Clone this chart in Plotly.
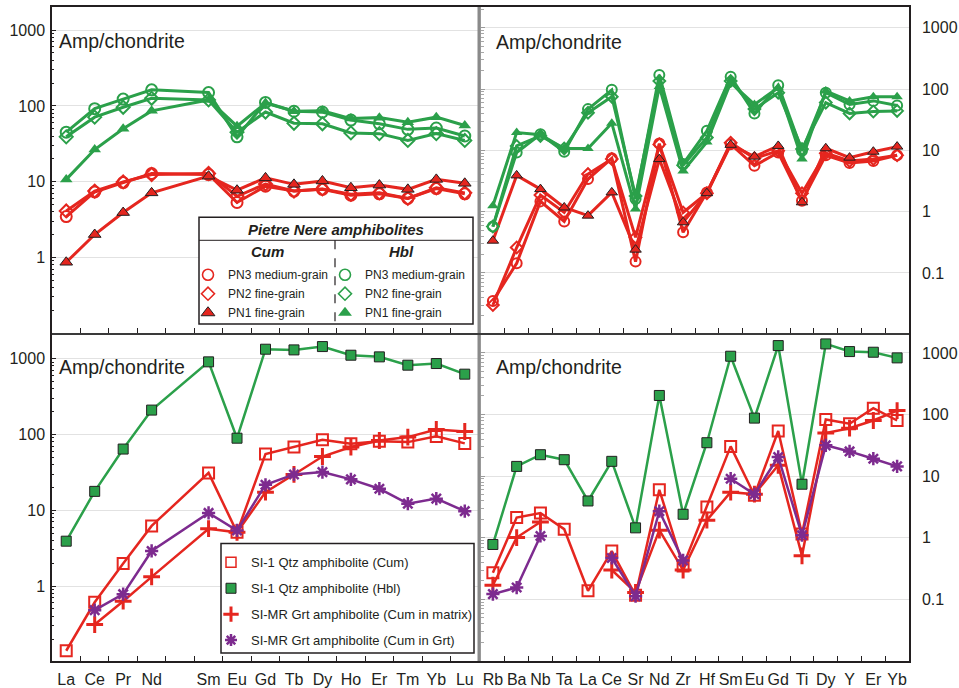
import plotly.graph_objects as go

# ---------------------------------------------------------------- data
ree = ["La", "Ce", "Pr", "Nd", "Sm", "Eu", "Gd", "Tb", "Dy", "Ho", "Er", "Tm", "Yb", "Lu"]
ree_axis = ["La", "Ce", "Pr", "Nd", " ", "Sm", "Eu", "Gd", "Tb", "Dy", "Ho", "Er", "Tm", "Yb", "Lu"]
spider = ["Rb", "Ba", "Nb", "Ta", "La", "Ce", "Sr", "Nd", "Zr", "Hf",
          "Sm", "Eu", "Gd", "Ti", "Dy", "Y", "Er", "Yb"]

# Pietre Nere amphibolites, REE (chondrite normalised)
pn_hbl_pn3_ree = [45, 92, 123, 163, 150, 39, 111, 85, 83, 65, 58, 49, 51, 40]
pn_hbl_pn2_ree = [39, 71, 96, 126, 120, 45, 83, 59, 58, 44, 43, 35, 43, 35]
pn_hbl_pn1_ree = [10.7, 26.5, 50, 86, 120, 54, 109, 85, 86, 68, 70, 61, 71, 55]
pn_cum_pn3_ree = [3.45, 7.3, 9.7, 12.8, 12.4, 5.3, 8.7, 7.5, 7.9, 6.6, 6.9, 6.0, 8.1, 6.9]
pn_cum_pn2_ree = [4.1, 7.5, 9.9, 12.4, 12.8, 6.4, 9.3, 7.5, 8.0, 6.8, 7.1, 6.0, 8.3, 7.1]
pn_cum_pn1_ree = [0.86, 2.0, 3.9, 7.1, 11.8, 7.7, 11.2, 9.2, 10.2, 8.3, 9.0, 7.9, 10.7, 9.5]

# Pietre Nere amphibolites, trace elements
pn_hbl_pn3_te = [0.57, 9.2, 18.3, 9.5, 47, 97, 1.6, 170, 6.0, 20.8, 159, 40, 115, 9.8, 87, 56, 64, 54]
pn_hbl_pn2_te = [0.57, 11.8, 17.2, 10.7, 41, 75, 1.8, 135, 5.7, 16.2, 135, 47, 87, 10.5, 60, 40, 43, 44]
pn_hbl_pn1_te = [1.25, 19.5, 18, 10.7, 10.7, 27.7, 1.1, 110, 4.6, 13.7, 127, 56, 105, 7.2, 93, 64, 75, 75]
pn_cum_pn3_te = [0.035, 0.144, 1.47, 0.69, 3.4, 7.4, 0.153, 12.9, 0.46, 2.06, 12.6, 5.6, 9.2, 1.5, 8.3, 6.2, 6.7, 8.3]
pn_cum_pn2_te = [0.030, 0.26, 1.86, 0.97, 4.1, 7.2, 0.38, 12.5, 0.97, 2.0, 13.3, 7.4, 9.8, 2.0, 9.0, 6.7, 7.2, 8.3]
pn_cum_pn1_te = [0.336, 3.9, 2.33, 1.17, 0.86, 2.06, 0.24, 7.2, 0.67, 2.0, 12.3, 7.9, 11.8, 1.42, 10.8, 7.6, 9.5, 11.5]

# SI-1 / SI-MR amphibolites, REE
si1_hbl_ree = [3.9, 17.7, 64, 209, 904, 89, 1327, 1300, 1438, 1106, 1052, 817, 859, 622]
si1_cum_ree = [0.14, 0.61, 1.98, 6.2, 31, 5.1, 55, 68, 85, 75, 81, 79, 94, 76]
simr_mat_ree = [None, 0.31, 0.63, 1.32, 5.7, 5.1, 17.3, 29.6, 51, 68, 83, 92, 116, 109]
simr_grt_ree = [None, 0.48, 0.78, 2.9, 9.2, 5.4, 21.6, 29.6, 31.8, 25.5, 19.2, 12.2, 14.2, 9.7]

# SI-1 / SI-MR amphibolites, trace elements
si1_hbl_te = [0.78, 14.4, 22.3, 18.5, 3.96, 17.4, 1.45, 204, 2.41, 34.9, 883, 87.5, 1314, 7.4, 1399, 1051, 1025, 830]
si1_cum_te = [0.27, 2.13, 2.53, 1.38, 0.138, 0.61, 0.117, 6.0, 0.35, 3.17, 30.4, 4.9, 54, 1.15, 83, 71, 127, 80]
simr_mat_te = [0.17, 1.01, 1.81, None, None, 0.30, 0.13, 1.33, 0.30, 1.93, 5.5, 5.1, 15, 0.51, 50, 60, 80, 116]
simr_grt_te = [0.122, 0.156, 1.07, None, None, 0.47, 0.113, 2.7, 0.43, None, 9.1, 5.1, 20.5, 1.1, 31.6, 25.2, 19.2, 14.4]

y_ticks_left = [1, 10, 100, 1000]
y_ticks_right = [0.1, 1, 10, 100, 1000]

# ---------------------------------------------------------------- style
W, H = 959, 688
RED = "#e5261f"
GREEN = "#2ba04a"
PURPLE = "#7d2b8f"
INK = "#231f20"
GRID = "#e2e2e2"
FONT = "Liberation Sans, Arial, sans-serif"


def px(v):
    return v / W


def py(v):
    return 1 - v / H


fig = go.Figure()


def series(x, y, xa, ya, color, symbol, size, lw, fill=None, edge=None, edge_w=2.0):
    marker = dict(symbol=symbol, size=size, color=fill if fill else color,
                  line=dict(color=edge if edge else color, width=edge_w))
    fig.add_trace(go.Scatter(x=x, y=y, xaxis=xa, yaxis=ya, mode="lines+markers",
                             line=dict(color=color, width=lw), marker=marker,
                             showlegend=False, hoverinfo="skip", connectgaps=False))


def key(name, legend, color, symbol, size, fill=None, edge=None, edge_w=2.0, group=None):
    fig.add_trace(go.Scatter(x=[None], y=[None], xaxis="x", yaxis="y", mode="markers", name=name,
                             legend=legend, legendgroup=group, showlegend=True,
                             marker=dict(symbol=symbol, size=size, color=fill if fill else color,
                                         line=dict(color=edge if edge else color, width=edge_w))))


# category registration (keeps the empty Pm slot on the REE axes)
for xa, ya, cats in (("x", "y", ree_axis), ("x3", "y3", ree_axis),
                     ("x2", "y2", spider), ("x4", "y4", spider),
                     ("x2", "y5", spider), ("x4", "y6", spider)):
    fig.add_trace(go.Scatter(x=cats, y=[None] * len(cats), xaxis=xa, yaxis=ya, mode="markers",
                             showlegend=False, hoverinfo="skip"))

# ---- top row: Pietre Nere
for xa, ya, cats, d in (("x", "y", ree, (pn_hbl_pn3_ree, pn_hbl_pn2_ree, pn_hbl_pn1_ree,
                                          pn_cum_pn3_ree, pn_cum_pn2_ree, pn_cum_pn1_ree)),
                        ("x2", "y2", spider, (pn_hbl_pn3_te, pn_hbl_pn2_te, pn_hbl_pn1_te,
                                              pn_cum_pn3_te, pn_cum_pn2_te, pn_cum_pn1_te))):
    ms = 10 if xa == "x" else 9
    series(cats, d[3], xa, ya, RED, "circle-open", ms + 1, 3)
    series(cats, d[4], xa, ya, RED, "diamond-open", ms, 3)
    series(cats, d[5], xa, ya, RED, "triangle-up", ms + 1, 3, fill=RED, edge=INK, edge_w=1)
    series(cats, d[0], xa, ya, GREEN, "circle-open", ms + 1, 3)
    series(cats, d[1], xa, ya, GREEN, "diamond-open", ms, 3)
    series(cats, d[2], xa, ya, GREEN, "triangle-up", ms + 1, 3, fill=GREEN, edge=GREEN, edge_w=0)

# ---- bottom row: SI-1 / SI-MR
for xa, ya, cats, d in (("x3", "y3", ree, (si1_cum_ree, si1_hbl_ree, simr_mat_ree, simr_grt_ree)),
                        ("x4", "y4", spider, (si1_cum_te, si1_hbl_te, simr_mat_te, simr_grt_te))):
    series(cats, d[1], xa, ya, GREEN, "square", 10, 2.5, fill=GREEN, edge=INK, edge_w=1)
    series(cats, d[0], xa, ya, RED, "square-open", 11, 2.5, edge_w=2)
    series(cats, d[2], xa, ya, RED, "cross-thin", 12, 2.5, edge_w=3)
    series(cats, d[3], xa, ya, PURPLE, "asterisk", 11, 2.5, edge_w=2.5)

# ---- legend keys
key("PN3 medium-grain", "legend", RED, "circle-open", 11, edge_w=1.6)
key("PN2 fine-grain", "legend", RED, "diamond-open", 10, edge_w=1.6)
key("PN1 fine-grain", "legend", RED, "triangle-up", 12, fill=RED, edge=INK, edge_w=1)
key("PN3 medium-grain", "legend2", GREEN, "circle-open", 11, edge_w=1.6)
key("PN2 fine-grain", "legend2", GREEN, "diamond-open", 10, edge_w=1.6)
key("PN1 fine-grain", "legend2", GREEN, "triangle-up", 12, fill=GREEN, edge=GREEN, edge_w=0)
key("SI-1 Qtz amphibolite (Cum)", "legend3", RED, "square-open", 10, edge_w=1.5, group="a")
key("SI-1 Qtz amphibolite (Hbl)", "legend3", GREEN, "square", 10, fill=GREEN, edge=INK, edge_w=1, group="b")
key("SI-MR Grt amphibolite (Cum in matrix)", "legend3", RED, "cross-thin", 11, edge_w=3, group="c")
key("SI-MR Grt amphibolite (Cum in Grt)", "legend3", PURPLE, "asterisk", 10, edge_w=2.5, group="d")

# ---------------------------------------------------------------- axes
minor_vals = [m * 10.0 ** e for e in range(-2, 4) for m in range(2, 10)]
tickfont = dict(family=FONT, size=16, color=INK)


def xcfg(domain, anchor, cats, n, labels):
    return dict(domain=domain, anchor=anchor, type="category", categoryorder="array",
                categoryarray=cats, range=[-0.5, n - 0.5], tickson="boundaries",
                ticks="inside", ticklen=5, tickwidth=1, tickcolor=INK, tickangle=0,
                showline=True, linecolor=INK, linewidth=1.5, mirror=True,
                showgrid=False, zeroline=False, showticklabels=labels,
                tickfont=tickfont, ticklabelstandoff=3, fixedrange=True)


def yleft(domain, anchor, rng):
    return dict(domain=domain, anchor=anchor, type="log", range=rng,
                tickmode="array", tickvals=y_ticks_left, ticktext=[str(v) for v in y_ticks_left],
                ticks="inside", ticklen=4, tickcolor=INK, tickwidth=1,
                showline=True, linecolor=INK, linewidth=1.5, mirror=True,
                showgrid=True, gridcolor=GRID, gridwidth=1, zeroline=False,
                tickfont=tickfont, ticklabelstandoff=2, fixedrange=True,
                minor=dict(tickmode="array", tickvals=minor_vals, ticks="inside",
                           ticklen=2.5, tickcolor=INK, tickwidth=1, showgrid=False))


def yright(domain, anchor, rng):
    return dict(domain=domain, anchor=anchor, type="log", range=rng, side="right",
                tickmode="array", tickvals=y_ticks_right,
                ticktext=["0.1", "1", "10", "100", "1000"], ticks="",
                showline=True, linecolor=INK, linewidth=1.5,
                showgrid=True, gridcolor=GRID, gridwidth=1, zeroline=False,
                tickfont=tickfont, ticklabelstandoff=8, fixedrange=True)


def yover(base, anchor, rng):
    return dict(overlaying=base, anchor=anchor, side="left", type="log", range=rng,
                showticklabels=False, tickmode="array", tickvals=y_ticks_right,
                ticks="inside", ticklen=4, tickcolor="#9a9a9a", tickwidth=1,
                showline=True, linecolor="#a8a8a8", linewidth=1.2, showgrid=False,
                zeroline=False, fixedrange=True,
                minor=dict(tickmode="array", tickvals=minor_vals, ticks="inside",
                           ticklen=2.5, tickcolor="#a8a8a8", tickwidth=1, showgrid=False))


dom_xl = [px(52), px(479)]
dom_xr = [px(481), px(909)]
dom_yt = [py(334), py(7.5)]
dom_yb = [py(663), py(336)]

rng_tl = [-1.0, 3.30]
rng_tr = [-1.98, 3.33]
rng_bl = [-0.99, 3.31]
rng_br = [-2.0, 3.29]

fig.update_layout(
    xaxis=xcfg(dom_xl, "y", ree_axis, 15, False),
    yaxis=yleft(dom_yt, "x", rng_tl),
    xaxis2=xcfg(dom_xr, "y2", spider, 18, False),
    yaxis2=yright(dom_yt, "x2", rng_tr),
    xaxis3=xcfg(dom_xl, "y3", ree_axis, 15, True),
    yaxis3=yleft(dom_yb, "x3", rng_bl),
    xaxis4=xcfg(dom_xr, "y4", spider, 18, True),
    yaxis4=yright(dom_yb, "x4", rng_br),
    yaxis5=yover("y2", "x2", rng_tr),
    yaxis6=yover("y4", "x4", rng_br),
)

# ---------------------------------------------------------------- legends
leg_common = dict(bgcolor="rgba(0,0,0,0)", borderwidth=0, xanchor="left", yanchor="top",
                  itemclick=False, itemdoubleclick=False, tracegroupgap=0)
fig.update_layout(
    legend=dict(x=px(188), y=py(261), font=dict(family=FONT, size=12, color=INK), **leg_common),
    legend2=dict(x=px(325), y=py(261), font=dict(family=FONT, size=12, color=INK), **leg_common),
    legend3=dict(x=px(211), y=py(549), font=dict(family=FONT, size=13, color=INK),
                 **{**leg_common, "tracegroupgap": 6}),
)

shapes = [
    # top-left key box
    dict(type="rect", xref="paper", yref="paper", x0=px(199), x1=px(473), y0=py(325), y1=py(218),
         line=dict(color=INK, width=1.5), fillcolor="white", layer="above"),
    dict(type="line", xref="paper", yref="paper", x0=px(199), x1=px(473), y0=py(241), y1=py(241),
         line=dict(color=INK, width=1), layer="above"),
    dict(type="line", xref="paper", yref="paper", x0=px(335), x1=px(335), y0=py(241), y1=py(325),
         line=dict(color=INK, width=1.2, dash="dash"), layer="above"),
    # bottom-left key box
    dict(type="rect", xref="paper", yref="paper", x0=px(221), x1=px(474), y0=py(655), y1=py(545),
         line=dict(color=INK, width=1.5), fillcolor="white", layer="above"),
    # panel dividers
    dict(type="line", xref="paper", yref="paper", x0=px(479), x1=px(479), y0=py(663), y1=py(7),
         line=dict(color="#8a8a8a", width=3), layer="above"),
    dict(type="line", xref="paper", yref="paper", x0=px(52), x1=px(909), y0=py(335), y1=py(335),
         line=dict(color="#3a3a3a", width=2), layer="above"),
]

annotations = []
for x0, y0 in ((57, 41), (494, 42), (57, 368), (494, 368)):
    annotations.append(dict(text="Amp/chondrite", xref="paper", yref="paper", x=px(x0), y=py(y0),
                            xanchor="left", yanchor="middle", showarrow=False,
                            font=dict(family=FONT, size=19.5, color=INK)))
annotations += [
    dict(text="<b><i>Pietre Nere amphibolites</i></b>", xref="paper", yref="paper",
         x=px(336), y=py(230), xanchor="center", yanchor="middle", showarrow=False,
         font=dict(family=FONT, size=15, color=INK)),
    dict(text="<b><i>Cum</i></b>", xref="paper", yref="paper", x=px(267), y=py(252),
         xanchor="center", yanchor="middle", showarrow=False, font=dict(family=FONT, size=15, color=INK)),
    dict(text="<b><i>Hbl</i></b>", xref="paper", yref="paper", x=px(401), y=py(252),
         xanchor="center", yanchor="middle", showarrow=False, font=dict(family=FONT, size=15, color=INK)),
]

fig.update_layout(
    width=W, height=H, margin=dict(l=0, r=0, t=0, b=0),
    paper_bgcolor="white", plot_bgcolor="white",
    font=dict(family=FONT, color=INK),
    shapes=shapes, annotations=annotations,
)

fig.write_html("out.html", config={"displayModeBar": False})
